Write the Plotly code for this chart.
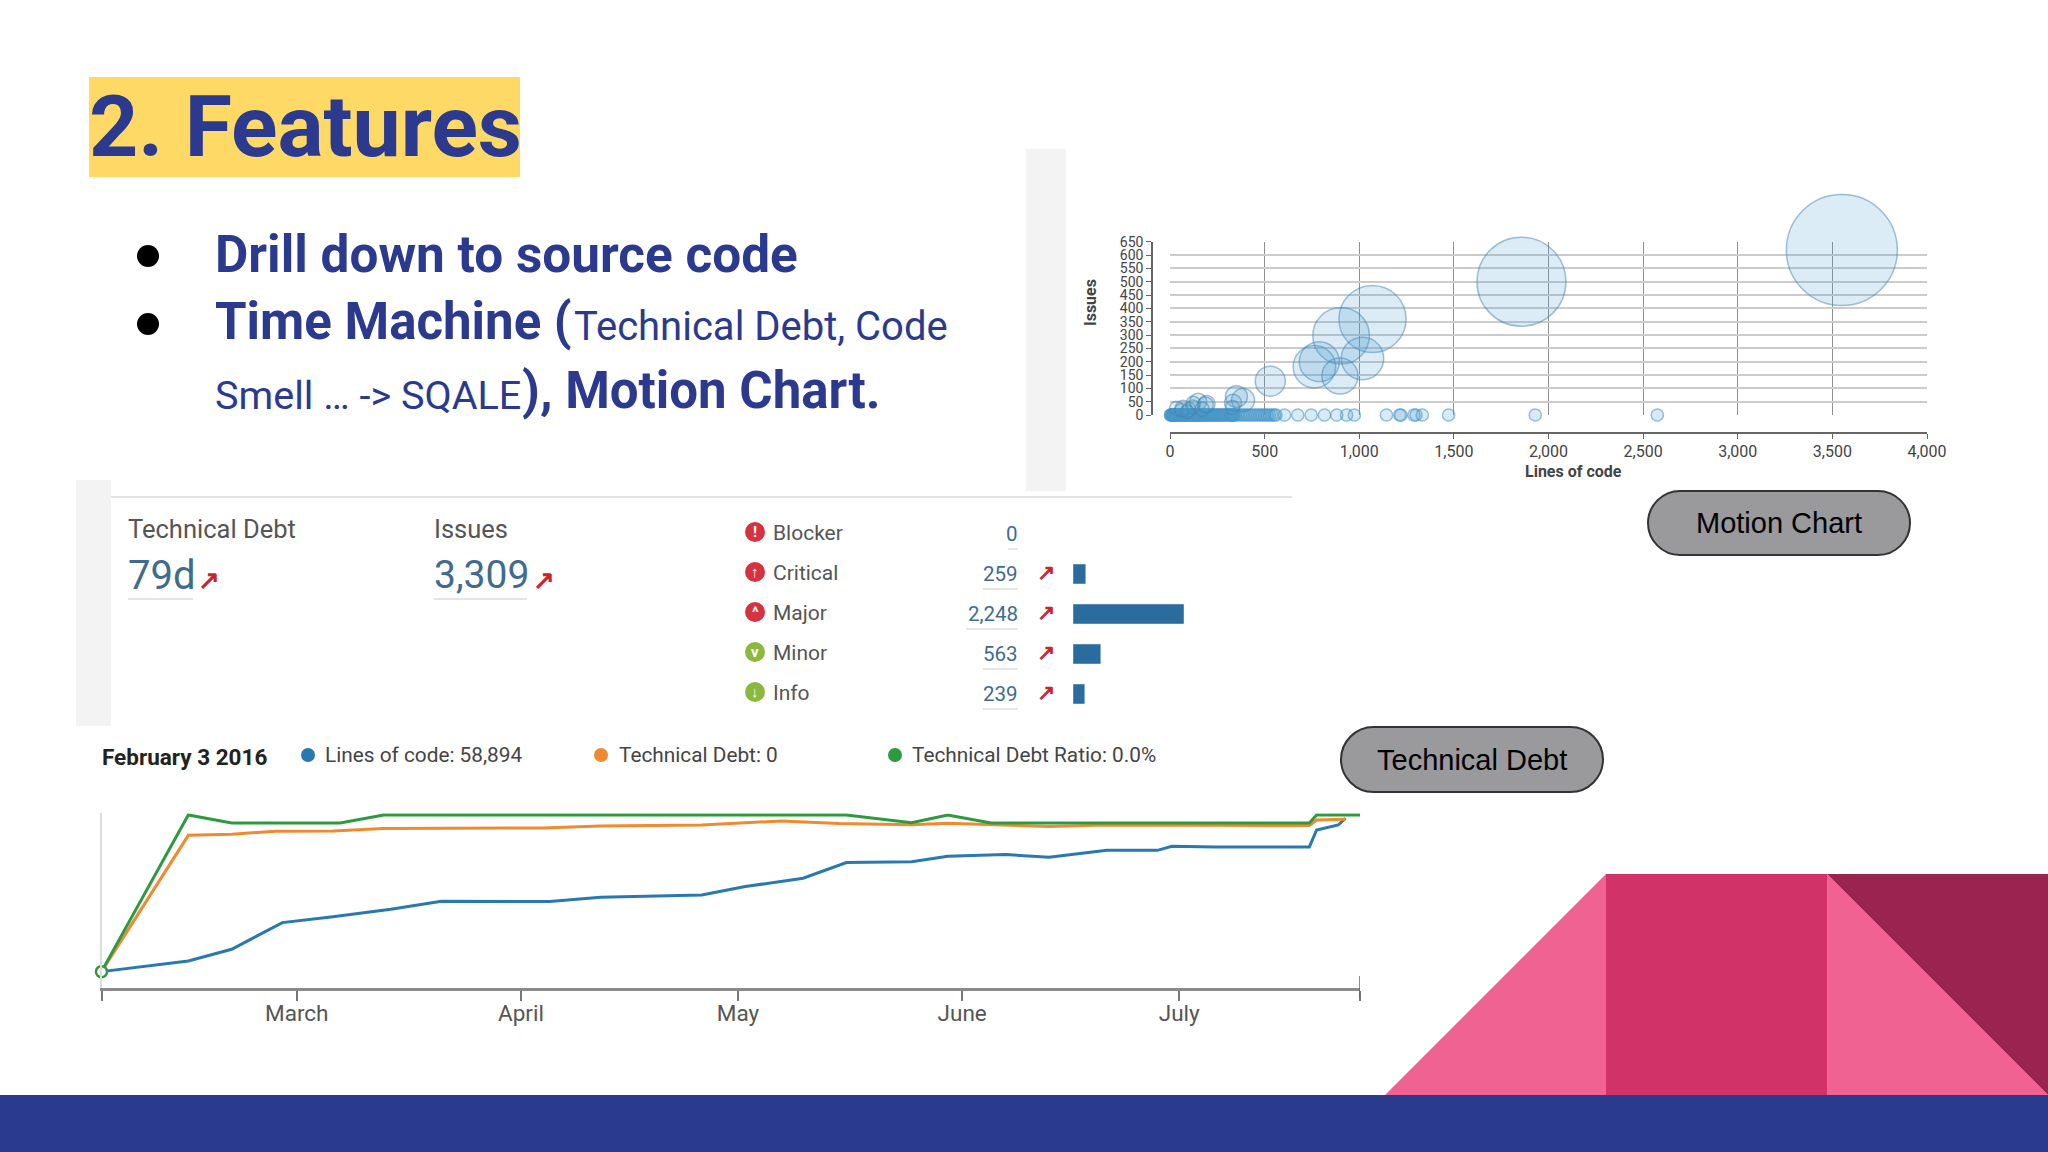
import plotly.graph_objects as go

W, H = 2048, 1152
NAVY = "#2b3a8f"
SLATE = "#3f6b90"

# motion chart: lines of code, issues, debt (bubble size)
bubble_loc = [3550, 1857, 1070, 904, 1017, 789, 763, 898, 530, 351, 386, 333, 149, 193, 187, 123, 35, 70, 100, 120, 60, 90, 170, 330]
bubble_issues = [619, 500, 360, 297, 212, 200, 181, 146, 127, 69, 56, 46, 50, 41, 38, 44, 25, 25, 20, 30, 18, 12, 22, 28]
bubble_debt = [123, 79, 45, 32, 18, 16, 18, 13, 9, 4.8, 5.3, 2.9, 2.9, 2.9, 2.5, 2, 2, 2.6, 2, 2, 1.8, 1.8, 2, 2]
zero_loc = [
    2, 5, 7, 9, 12, 14, 17, 19, 22, 25, 27, 30, 33, 36, 38, 41, 44, 47, 51, 54, 58, 61, 65, 68, 72, 75, 79,
    83, 87, 90, 94, 98, 102, 106, 110, 114, 118, 122, 126, 131, 135, 139, 144, 148, 153, 157, 162, 166, 171,
    176, 181, 186, 191, 196, 201, 206, 212, 217, 223, 228, 234, 240, 246, 252, 258, 264, 270, 276, 283, 290,
    297, 304, 311, 318, 322, 326, 330, 334, 338, 345, 358, 372, 385, 398, 410, 423, 437, 450, 463, 476, 488,
    500, 513, 525, 538, 552, 560, 605, 675, 746, 816, 881, 933, 974, 1144, 1214, 1220, 1289, 1300, 1333,
    1472, 1930, 2575,
]
zero_issues = [0] * len(zero_loc)
zero_debt = [1.5] * len(zero_loc)

x_ticks = [0, 500, 1000, 1500, 2000, 2500, 3000, 3500, 4000]
x_ticktext = ["0", "500", "1,000", "1,500", "2,000", "2,500", "3,000", "3,500", "4,000"]
x_grid = [500, 1000, 1500, 2000, 2500, 3000, 3500]
y_ticks = [0, 50, 100, 150, 200, 250, 300, 350, 400, 450, 500, 550, 600, 650]
y_grid = [0, 50, 100, 150, 200, 250, 300, 350, 400, 450, 500, 550, 600]

# issues by severity
severity = ["Blocker", "Critical", "Major", "Minor", "Info"]
severity_count = [0, 259, 2248, 563, 239]
severity_text = ["0", "259", "2,248", "563", "239"]
severity_glyph = ["!", "↑", "^", "v", "↓"]
severity_color = ["#d5333f", "#d5333f", "#d5333f", "#8cb83f", "#8cb83f"]

# time machine, relative to each series' own max
loc_dates = ["2016-02-03", "2016-02-15", "2016-02-21", "2016-02-28", "2016-03-06", "2016-03-14", "2016-03-21",
             "2016-04-05", "2016-04-12", "2016-04-26", "2016-05-02", "2016-05-10", "2016-05-16", "2016-05-25",
             "2016-05-30", "2016-06-07", "2016-06-13", "2016-06-21", "2016-06-28", "2016-06-30", "2016-07-06",
             "2016-07-19", "2016-07-20", "2016-07-23", "2016-07-24"]
loc_values = [0, 6.8, 14.3, 31.3, 35.1, 39.8, 44.9, 44.7, 47.4, 48.9, 54.3, 59.6, 69.6, 70.2, 73.6, 74.7, 73.0,
              77.4, 77.4, 80.0, 79.6, 79.6, 90.4, 93.6, 97.9]
debt_dates = ["2016-02-03", "2016-02-15", "2016-02-21", "2016-02-27", "2016-03-06", "2016-03-13", "2016-04-04",
              "2016-04-12", "2016-04-26", "2016-05-07", "2016-05-15", "2016-05-25", "2016-05-30", "2016-06-05",
              "2016-06-13", "2016-06-21", "2016-07-06", "2016-07-19", "2016-07-20", "2016-07-24"]
debt_values = [0, 87.0, 87.7, 89.6, 89.8, 91.3, 91.7, 93.0, 93.6, 96.2, 94.5, 93.8, 94.7, 94.0, 92.6, 93.6, 93.2,
               93.2, 96.8, 97.2]
ratio_dates = ["2016-02-03", "2016-02-15", "2016-02-21", "2016-03-07", "2016-03-13", "2016-05-16", "2016-05-25",
               "2016-05-30", "2016-06-05", "2016-07-19", "2016-07-20", "2016-07-26"]
ratio_values = [0, 100, 94.9, 94.9, 100, 100, 95.1, 100, 94.9, 94.9, 100, 100]
month_ticks = ["2016-02-03", "2016-03-01", "2016-04-01", "2016-05-01", "2016-06-01", "2016-07-01", "2016-07-26"]
month_text = ["", "March", "April", "May", "June", "July", ""]


def px(x):
    return x / W


def py(y):
    return 1 - y / H


def dom_x(a, b):
    return [px(a), px(b)]


def dom_y(top, bottom):
    return [py(bottom), py(top)]


annotations = []
shapes = []


def label(x, y, text, size, color="#555555", bold=False, anchor="left", family="Roboto", angle=0):
    annotations.append(dict(
        x=px(x), y=py(y), xref="paper", yref="paper", xanchor=anchor, yanchor="middle",
        text=f"<b>{text}</b>" if bold else text, showarrow=False, textangle=angle,
        font=dict(family=family, size=size, color=color),
        borderpad=0, borderwidth=0,
    ))


def rect(x0, y0, x1, y1, color):
    shapes.append(dict(type="rect", xref="paper", yref="paper", x0=px(x0), x1=px(x1), y0=py(y0), y1=py(y1),
                       fillcolor=color, line_width=0, layer="below"))


def poly(points, color):
    path = "M " + " L ".join(f"{px(a):.5f},{py(b):.5f}" for a, b in points) + " Z"
    shapes.append(dict(type="path", xref="paper", yref="paper", path=path, fillcolor=color, line_width=0, layer="below"))


def rule(x0, y0, x1, y1, color, width=1.5):
    shapes.append(dict(type="line", xref="paper", yref="paper", x0=px(x0), x1=px(x1), y0=py(y0), y1=py(y1),
                       line=dict(color=color, width=width)))


def dot(x, y, r, color):
    shapes.append(dict(type="circle", xref="paper", yref="paper", x0=px(x - r), x1=px(x + r), y0=py(y + r), y1=py(y - r),
                       fillcolor=color, line_width=0))


def pill(x0, y0, x1, y1, text):
    r = (y1 - y0) / 2
    k = r * 0.55
    pts = [(x0 + r, y0), (x1 - r, y0), (x1 - r + k, y0), (x1, y0 + r - k), (x1, y0 + r), (x1, y1 - r + k),
           (x1 - r + k, y1), (x1 - r, y1), (x0 + r, y1), (x0 + r - k, y1), (x0, y1 - r + k), (x0, y0 + r),
           (x0, y0 + r - k), (x0 + r - k, y0), (x0 + r, y0)]
    p = [f"{px(a):.5f},{py(b):.5f}" for a, b in pts]
    path = (f"M {p[0]} L {p[1]} C {p[2]} {p[3]} {p[4]} C {p[5]} {p[6]} {p[7]} L {p[8]} "
            f"C {p[9]} {p[10]} {p[11]} C {p[12]} {p[13]} {p[14]} Z")
    shapes.append(dict(type="path", xref="paper", yref="paper", path=path, fillcolor="#9a999b",
                       line=dict(color="#333333", width=2)))
    label((x0 + x1) / 2, (y0 + y1) / 2, text, 29, "#000000", anchor="center", family="Liberation Sans")


# slide furniture
rect(89, 77, 520, 177, "#ffd966")
rect(0, 1095, 2048, 1152, "#2a3a8f")
poly([(1385, 1095), (1606, 874), (1606, 1095)], "#f06292")
rect(1606, 874, 1827, 1095, "#d13268")
poly([(1827, 874), (2048, 1095), (1827, 1095)], "#f06292")
poly([(1827, 874), (2048, 874), (2048, 1095)], "#9b2350")
rect(1026, 149, 1066, 491, "#f3f3f3")
rect(76, 480, 111, 726, "#f3f3f3")
rule(111, 497, 1292, 497, "#e3e3e3", 2)

label(89, 126, "2. Features", 86, NAVY, bold=True)
dot(148, 256, 11, "#000000")
dot(148, 324, 11, "#000000")
label(215, 255, "Drill down to source code", 51.3, NAVY, bold=True)
label(215, 322, "Time Machine (", 51, NAVY, bold=True)
label(574, 326, "Technical Debt, Code", 40, NAVY)
label(215, 395, "Smell … -> SQALE", 39.6, NAVY)
label(522, 390, "), Motion Chart.", 51, NAVY, bold=True)

# headline numbers
label(128, 529, "Technical Debt", 25.5)
label(434, 529, "Issues", 25.5)
label(128, 575, "79d", 40, SLATE)
label(434, 575, "3,309", 39, SLATE)
rule(128, 599, 193, 599, "#dddddd")
rule(434, 599, 527, 599, "#dddddd")
label(209, 580, "↗", 26, "#c9252f", bold=True, anchor="center")
label(544, 580, "↗", 26, "#c9252f", bold=True, anchor="center")

row_y = [534, 574, 614, 654, 694]
for i, name in enumerate(severity):
    y = row_y[i]
    dot(755, y - 2, 10, severity_color[i])
    label(755, y - 2, severity_glyph[i], 15, "#ffffff", bold=True, anchor="center")
    label(773, y - 1, name, 21)
    label(1018, y, severity_text[i], 20.5, SLATE, anchor="right")
    if severity_count[i] > 0:
        label(1046, y - 2, "↗", 22, "#c9252f", bold=True, anchor="center")
    left = {0: 1008, 2: 966}.get(i, 983)
    rule(left, y + 15, 1018, y + 15, "#dddddd")

# time machine legend
label(102, 757, "February 3 2016", 22.5, "#222222", bold=True)
dot(308, 755, 7, "#2a78b0")
dot(601, 755, 7, "#ef8a2e")
dot(895, 755, 7, "#2c9a3f")
label(325, 755, "Lines of code: 58,894", 20.8, "#444444")
label(619, 755, "Technical Debt: 0", 20.8, "#444444")
label(912, 755, "Technical Debt Ratio: 0.0%", 20.8, "#444444")

pill(1648, 491, 1910, 555, "Motion Chart")
pill(1341, 727, 1603, 792, "Technical Debt")

label(1573, 471, "Lines of code", 16, "#444444", bold=True, anchor="center")
label(1091, 303, "Issues", 16, "#444444", bold=True, anchor="center", angle=-90)

fig = go.Figure()

fig.add_trace(go.Scatter(x=zero_loc, y=zero_issues, mode="markers", cliponaxis=False,
                         marker=dict(size=zero_debt, color="rgba(75,159,213,0.3)", sizemode="area", sizeref=0.02,
                                     line=dict(color="rgba(72,150,200,0.85)", width=1.5)),
                         xaxis="x", yaxis="y"))
fig.add_trace(go.Scatter(x=bubble_loc, y=bubble_issues, mode="markers", cliponaxis=False,
                         marker=dict(size=bubble_debt, color="rgba(75,159,213,0.28)", sizemode="area", sizeref=0.02,
                                     line=dict(color="rgba(70,135,175,0.75)", width=1.5)),
                         xaxis="x", yaxis="y"))
# empty trace just so the labelled axes get drawn
fig.add_trace(go.Scatter(x=[0], y=[0], mode="markers", marker=dict(opacity=0), hoverinfo="skip", xaxis="x2", yaxis="y2"))

fig.add_trace(go.Bar(x=[c if c else None for c in severity_count], y=severity, orientation="h",
                     marker=dict(color="#2b6c9e"), width=0.5, xaxis="x4", yaxis="y4"))

fig.add_trace(go.Scatter(x=loc_dates, y=loc_values, mode="lines", line=dict(color="#2a78b0", width=3),
                         cliponaxis=False, xaxis="x3", yaxis="y3"))
fig.add_trace(go.Scatter(x=debt_dates, y=debt_values, mode="lines", line=dict(color="#ef8a2e", width=3),
                         cliponaxis=False, xaxis="x3", yaxis="y3"))
fig.add_trace(go.Scatter(x=ratio_dates, y=ratio_values, mode="lines", line=dict(color="#2c9a3f", width=3),
                         cliponaxis=False, xaxis="x3", yaxis="y3"))
fig.add_trace(go.Scatter(x=ratio_dates[:1], y=ratio_values[:1], mode="markers", cliponaxis=False,
                         marker=dict(size=11, color="white", line=dict(color="#2c9a3f", width=2.5)),
                         xaxis="x3", yaxis="y3"))

# tall tick at the right end of the time axis
shapes.append(dict(type="line", xref="x3", yref="paper", x0=month_ticks[-1], x1=month_ticks[-1],
                   y0=py(998), y1=py(976), line=dict(color="#666666", width=1.5)))

fig.update_layout(
    width=W,
    height=H,
    margin=dict(l=0, r=0, t=0, b=0, autoexpand=False),
    autosize=False,
    showlegend=False,
    plot_bgcolor="rgba(0,0,0,0)",
    paper_bgcolor="white",
    font=dict(family="Roboto"),
    annotations=annotations,
    shapes=shapes,
    xaxis=dict(domain=dom_x(1170, 1927), range=[0, 4000], tickvals=x_grid, showticklabels=False, ticks="",
               showgrid=True, gridcolor="#909090", gridwidth=1, zeroline=False, showline=False, anchor="y"),
    yaxis=dict(domain=dom_y(241.7, 415), range=[0, 650], tickvals=y_grid, showticklabels=False, ticks="",
               showgrid=True, gridcolor="#cccccc", gridwidth=2, zeroline=False, showline=False, anchor="x"),
    xaxis2=dict(overlaying="x", range=[0, 4000], tickvals=x_ticks, ticktext=x_ticktext, showgrid=False, zeroline=False,
                showline=True, linecolor="#666666", linewidth=1.5, ticks="outside", ticklen=5, tickcolor="#666666",
                tickfont=dict(family="Roboto", size=16, color="#444444"), anchor="free", position=py(433),
                ticklabelstandoff=-1),
    yaxis2=dict(overlaying="y", range=[0, 650], tickvals=y_ticks, showgrid=False, zeroline=False, showline=True,
                linecolor="#666666", linewidth=1.5, ticks="outside", ticklen=5, tickcolor="#666666",
                tickfont=dict(family="Roboto", size=14, color="#444444"), anchor="free", position=px(1152)),
    xaxis3=dict(domain=dom_x(101.5, 1360), type="date", range=[month_ticks[0], month_ticks[-1]], tickvals=month_ticks,
                ticktext=month_text, showgrid=False, zeroline=False, showline=True, linecolor="#8a8a8a", linewidth=3,
                ticks="outside", ticklen=10, tickwidth=1.5, tickcolor="#777777", anchor="y3", ticklabelstandoff=-7,
                tickfont=dict(family="Roboto", size=22.5, color="#555555")),
    yaxis3=dict(domain=dom_y(813.3, 988.3), range=[-10.64, 101.06], showticklabels=False, ticks="", showgrid=False,
                zeroline=False, showline=True, linecolor="#dddddd", linewidth=1.5, anchor="x3"),
    xaxis4=dict(domain=dom_x(1073, 1184), range=[0, 2248], visible=False, anchor="y4"),
    yaxis4=dict(domain=dom_y(514, 714), categoryorder="array", categoryarray=severity, autorange="reversed",
                visible=False, anchor="x4"),
)

fig.write_html("out.html", config={"displayModeBar": False}, post_script="document.body.style.margin='0';")
